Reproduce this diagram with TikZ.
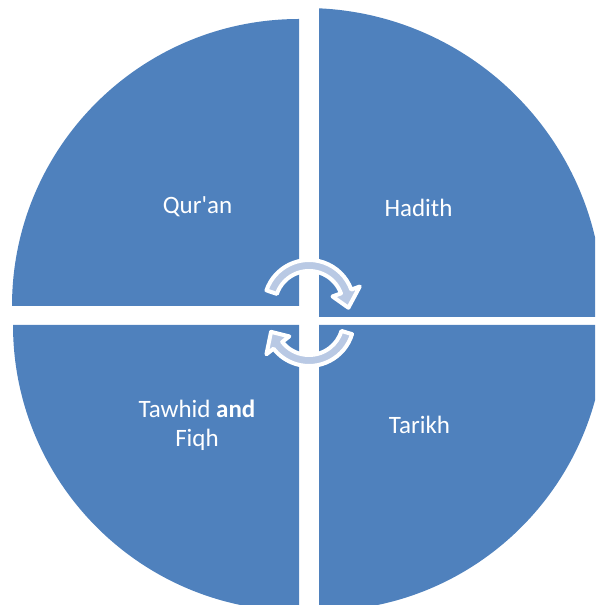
\documentclass[tikz,border=0pt]{standalone}
\usepackage{fontspec}
\setmainfont{Carlito}
\usetikzlibrary{calc}
\definecolor{segblue}{RGB}{79,129,189}
\definecolor{arrowfill}{RGB}{185,201,228}

\begin{document}
\begin{tikzpicture}[x=1pt,y=1pt,
    segment/.style={fill=segblue},
    segtext/.style={font=\fontsize{25}{29}\selectfont, text=white, align=center, inner sep=0pt},
    cyclearrow/.style={fill=arrowfill, draw=white, line width=4pt, line join=round}]
  \useasboundingbox (0,0) rectangle (595,605);
  \clip (0,0) rectangle (595,605);
  % four quarter segments
  \fill[segment] (299,299) -- (12,299) arc[start angle=180, end angle=90, radius=287] -- cycle;
  \begin{scope}
    \clip (319,288) rectangle (620,620);
    \fill[segment] (305,299) circle[radius=298];
  \end{scope}
  \fill[segment] (299,280) -- (13,280) arc[start angle=180, end angle=270, radius=286] -- cycle;
  \fill[segment] (319,280) -- (319,-6) arc[start angle=270, end angle=360, radius=286] -- cycle;
  % circular arrows in the middle
  \begin{scope}[shift={(309,300)}]
    \filldraw[cyclearrow] (161:45) arc[start angle=161, end angle=20, radius=45]
      -- (20:54) -- (-4:39.5) -- (20:25) -- (20:34)
      arc[start angle=20, end angle=161, radius=34] -- cycle;
  \end{scope}
  \begin{scope}[shift={(309,284)}]
    \filldraw[cyclearrow] (-17:45) arc[start angle=-17, end angle=-142, radius=45]
      -- (-142:54) -- (196:39.5) -- (-142:25) -- (-142:34)
      arc[start angle=-142, end angle=-17, radius=34] -- cycle;
  \end{scope}
  % segment texts
  \node[segtext, anchor=base] (quran) at (197.5,391) {Qur\textquotesingle an};
  \node[segtext, anchor=base] (hadith) at (418.5,388) {Hadith};
  \node[segtext, anchor=base] (tawhid) at (197,158) {Tawhid \textbf{and}\\Fiqh};
  \node[segtext, anchor=base] (tarikh) at (419.5,171) {Tarikh};
\end{tikzpicture}
\end{document}
